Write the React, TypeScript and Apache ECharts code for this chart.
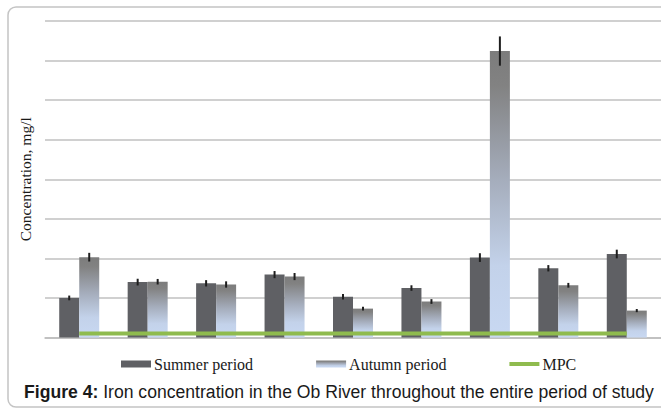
import React, { useEffect, useRef } from "react";
import * as echarts from "echarts";

const categories = ["1", "2", "3", "4", "5", "6", "7", "8", "9"];
const summerValues = [1.0, 1.4, 1.37, 1.59, 1.03, 1.25, 2.02, 1.75, 2.11];
const summerErrors = [0.06, 0.085, 0.08, 0.09, 0.07, 0.07, 0.11, 0.08, 0.11];
const autumnValues = [2.03, 1.41, 1.34, 1.54, 0.73, 0.91, 7.24, 1.32, 0.68];
const autumnErrors = [0.11, 0.07, 0.08, 0.09, 0.05, 0.06, 0.37, 0.06, 0.04];
const mpcValues = [0.1, 0.1, 0.1, 0.1, 0.1, 0.1, 0.1, 0.1, 0.1];
const yMin = 0;
const yMax = 8;
const yInterval = 1;
const yAxisName = "Concentration, mg/l";
const seriesNames = ["Summer period", "Autumn period", "MPC"];
const captionBold = "Figure 4:";
const captionText = " Iron concentration in the Ob River throughout the entire period of study";

const BAR_W = 20;

function errorSeries(values: number[], errors: number[], offset: number) {
  return {
    type: "custom",
    z: 10,
    silent: true,
    data: values.map((v, i) => [i, v, errors[i]]),
    renderItem: (params: any, api: any) => {
      const idx = api.value(0);
      const v = api.value(1);
      const e = api.value(2);
      const top = api.coord([idx, v + e]);
      const bot = api.coord([idx, v - e]);
      const x = top[0] + offset;
      return {
        type: "line",
        shape: { x1: x, y1: top[1], x2: x, y2: bot[1] },
        style: { stroke: "#1e1e1e", lineWidth: 2 },
      };
    },
  };
}

export default function App() {
  const ref = useRef<HTMLDivElement>(null);
  useEffect(() => {
    if (!ref.current) return;
    const chart = echarts.init(ref.current, undefined, { renderer: "svg" });
    const autumnGradient = new echarts.graphic.LinearGradient(0, 0, 0, 1, [
      { offset: 0, color: "#7c7c7c" },
      { offset: 0.12, color: "#828282" },
      { offset: 0.45, color: "#a5adbc" },
      { offset: 0.75, color: "#c3d2ea" },
      { offset: 1, color: "#c8d8f2" },
    ]);
    chart.setOption({
      animation: false,
      grid: { left: 45, right: 0, top: 21, bottom: 71.5, containLabel: false },
      graphic: [
        {
          type: "rect",
          shape: { x: 8, y: 7, width: 680, height: 400, r: 8 },
          style: { fill: "none", stroke: "#c4c4c4", lineWidth: 1.5 },
          silent: true,
          z: -10,
        },
        {
          type: "text",
          x: 24,
          y: 392,
          style: {
            text: "{b|" + captionBold + "}{r|" + captionText + "}",
            verticalAlign: "middle",
            rich: {
              b: { fontFamily: "Liberation Sans", fontSize: 17.6, fontWeight: "bold", fill: "#1a1a1a" },
              r: { fontFamily: "Liberation Sans", fontSize: 17.6, fill: "#1a1a1a" },
            },
          },
        },
      ],
      legend: {
        left: 116,
        top: 351,
        itemGap: 63,
        itemWidth: 30,
        itemHeight: 7,
        symbolKeepAspect: true,
        textStyle: { fontFamily: "Liberation Serif", fontSize: 16, color: "#1a1a1a", padding: [0, 0, 0, -2] },
        data: [
          { name: seriesNames[0], icon: "rect" },
          { name: seriesNames[1], icon: "rect" },
          { name: seriesNames[2], icon: "path://M0,0h30v4h-30z" },
        ],
      },
      xAxis: {
        type: "category",
        data: categories,
        axisLine: { show: true, lineStyle: { color: "#bcbcbc", width: 1.5 } },
        axisTick: { show: false },
        axisLabel: { show: false },
      },
      yAxis: {
        type: "value",
        min: yMin,
        max: yMax,
        interval: yInterval,
        name: yAxisName,
        nameLocation: "middle",
        nameRotate: 90,
        nameGap: 12,
        nameTextStyle: { fontFamily: "Liberation Serif", fontSize: 15.5, color: "#1a1a1a" },
        axisLine: { show: false },
        axisTick: { show: false },
        axisLabel: { show: false },
        splitLine: { lineStyle: { color: "#c0c0c0", width: 1.5 } },
      },
      series: [
        {
          name: seriesNames[0],
          type: "bar",
          data: summerValues,
          barWidth: BAR_W,
          barGap: "0%",
          itemStyle: { color: "#5f6064" },
        },
        {
          name: seriesNames[1],
          type: "bar",
          data: autumnValues,
          barWidth: BAR_W,
          barGap: "0%",
          itemStyle: { color: autumnGradient },
        },
        {
          name: seriesNames[2],
          type: "line",
          data: mpcValues,
          symbol: "none",
          z: 5,
          lineStyle: { color: "#8fbb4e", width: 4 },
          itemStyle: { color: "#8fbb4e" },
        },
        errorSeries(summerValues, summerErrors, -BAR_W / 2),
        errorSeries(autumnValues, autumnErrors, BAR_W / 2),
      ],
    });
    return () => chart.dispose();
  }, []);
  return (
    <div
      ref={ref}
      style={{ position: "fixed", left: 0, top: 0, width: 661, height: 409, background: "#fff" }}
    />
  );
}
